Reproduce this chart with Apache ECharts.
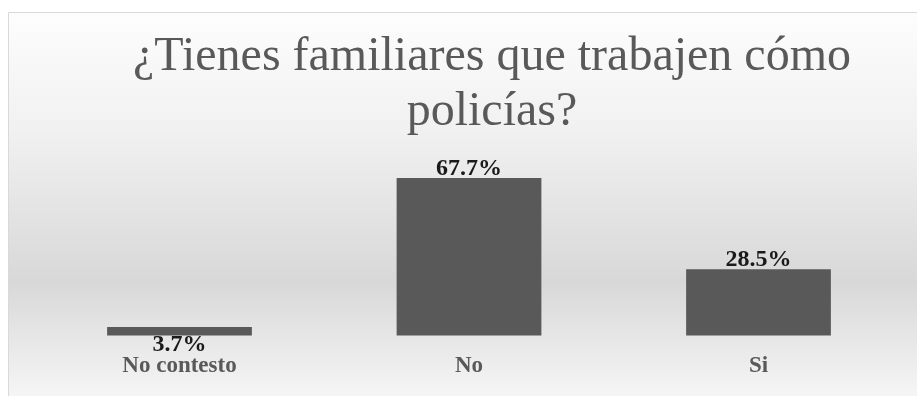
<!DOCTYPE html>
<html>
<head>
<meta charset="utf-8">
<script src="https://cdn.jsdelivr.net/npm/echarts@6/dist/echarts.min.js"></script>
<style>
html,body{margin:0;padding:0;background:#ffffff;}
#chart{width:917px;height:396px;}
</style>
</head>
<body>
<div id="chart"></div>
<script>
var titleText = '¿Tienes familiares que trabajen cómo\npolicías?';
var categories = ['No contesto', 'No', 'Si'];
var values = [3.7, 67.7, 28.5];

var chart = echarts.init(document.getElementById('chart'), null, {renderer: 'canvas'});
var seriesData = values.map(function (v, i) {
  var item = {value: v};
  if (i === 0) {
    item.label = {position: 'bottom', distance: -3};
  }
  return item;
});

chart.setOption({
  animation: false,
  backgroundColor: '#ffffff',
  graphic: [{
    type: 'rect',
    z: -10,
    silent: true,
    shape: {x: 8.5, y: 12.5, width: 910, height: 390},
    style: {
      fill: {
        type: 'linear', x: 0, y: 0, x2: 0, y2: 1,
        colorStops: [
          {offset: 0, color: '#fdfdfd'},
          {offset: 0.3, color: '#f1f1f1'},
          {offset: 0.69, color: '#d8d8d8'},
          {offset: 1, color: '#f7f7f7'}
        ]
      },
      stroke: '#d9d9d9',
      lineWidth: 1
    }
  }],
  title: {
    text: titleText,
    left: 487,
    textAlign: 'center',
    top: 25,
    textStyle: {
      fontFamily: '"Liberation Serif", "Times New Roman", serif',
      fontSize: 48,
      fontWeight: 'normal',
      color: '#595959',
      lineHeight: 55
    }
  },
  grid: {left: 34.75, right: 13.75, top: 60, bottom: 60.5, containLabel: false},
  xAxis: {
    type: 'category',
    data: categories,
    axisLine: {show: false},
    axisTick: {show: false},
    axisLabel: {
      margin: 19,
      fontFamily: '"Liberation Serif", "Times New Roman", serif',
      fontSize: 23,
      fontWeight: 'bold',
      color: '#595959'
    }
  },
  yAxis: {
    type: 'value',
    min: 0,
    max: 118.4,
    show: false,
    splitLine: {show: false}
  },
  series: [{
    type: 'bar',
    data: seriesData,
    barWidth: '50%',
    itemStyle: {color: '#595959'},
    label: {
      show: true,
      position: 'top',
      distance: -3,
      formatter: function (p) { return p.value.toFixed(1) + '%'; },
      fontFamily: '"Liberation Serif", "Times New Roman", serif',
      fontSize: 24,
      fontWeight: 'bold',
      color: '#1a1a1a'
    }
  }]
});
</script>
</body>
</html>
